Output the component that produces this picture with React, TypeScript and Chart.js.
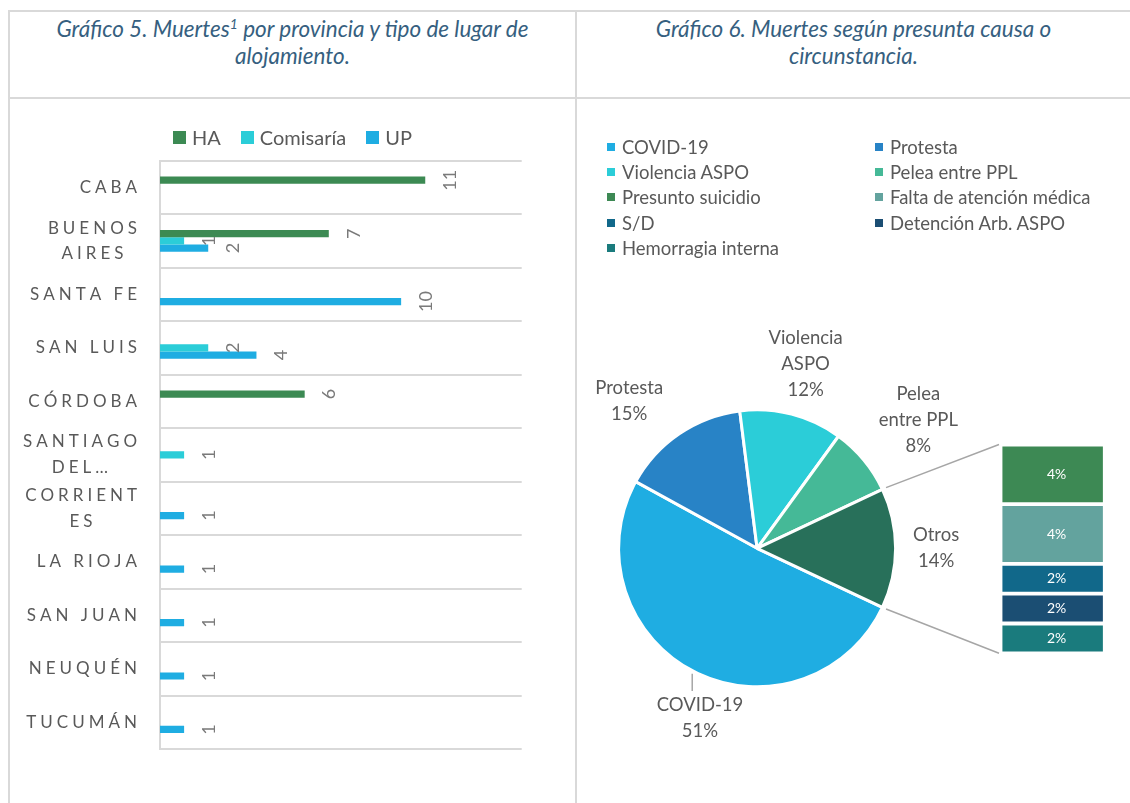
import React, { useEffect, useRef } from "react";
import { Chart, registerables } from "chart.js";

Chart.register(...registerables);

const FONT = "Lato, 'Open Sans', Arial, sans-serif";
const TEXT_GRAY = "#595959";
const BORDER = "#d9d9d9";
const TITLE_COLOR = "#365f80";

// ---------------- Gráfico 5: muertes por provincia ----------------
const provinces: (string | string[])[] = [
  "CABA",
  ["BUENOS", "AIRES"],
  "SANTA FE",
  "SAN LUIS",
  "CÓRDOBA",
  ["SANTIAGO", "DEL…"],
  ["CORRIENT", "ES"],
  "LA RIOJA",
  "SAN JUAN",
  "NEUQUÉN",
  "TUCUMÁN",
];
const haValues = [11, 7, null, null, 6, null, null, null, null, null, null];
const comisariaValues = [null, 1, null, 2, null, 1, null, null, null, null, null];
const upValues = [null, 2, 10, 4, null, null, 1, 1, 1, 1, 1];
const barSeriesNames = ["HA", "Comisaría", "UP"];
const barSeriesColors = ["#3c8a53", "#2bcdd8", "#1fade2"];
const xAxisMax = 15;

// ---------------- Gráfico 6: presunta causa ----------------
const pieLabelLines = [["COVID-19"], ["Protesta"], ["Violencia", "ASPO"], ["Pelea", "entre PPL"], ["Otros"]];
const pieCategories = ["COVID-19", "Protesta", "Violencia ASPO", "Pelea entre PPL", "Otros"];
const piePercents = [51, 15, 12, 8, 14];
const pieColors = ["#1fade2", "#2883c6", "#2bcdd8", "#45b997", "#28705a"];
const otrosCategories = ["Presunto suicidio", "Falta de atención médica", "S/D", "Detención Arb. ASPO", "Hemorragia interna"];
const otrosPercents = [4, 4, 2, 2, 2];
const otrosColors = ["#3d8954", "#63a39e", "#11688a", "#1b4e73", "#1a7b7d"];

// label placement (style config, relative to each slice's mid angle)
const pieLabelPlacement = [
  { dAngle: -8.4, dist: 179, leader: true },
  { dAngle: -6.8, dist: 195, leader: false },
  { dAngle: 0.3, dist: 191, leader: false },
  { dAngle: 1.1, dist: 206, leader: false },
  { dAngle: 0, dist: 179, leader: false },
];

function spacedWidth(ctx: CanvasRenderingContext2D, text: string, spacing: number) {
  const chars = Array.from(text);
  let w = 0;
  for (const ch of chars) w += ctx.measureText(ch).width;
  return w + spacing * (chars.length - 1);
}
function drawSpaced(ctx: CanvasRenderingContext2D, text: string, x: number, y: number, spacing: number) {
  let cx = x;
  for (const ch of Array.from(text)) {
    ctx.fillText(ch, cx, y);
    cx += ctx.measureText(ch).width + spacing;
  }
}

const yLabelPlugin = {
  id: "yLabels",
  afterDraw(chart: any) {
    const ctx: CanvasRenderingContext2D = chart.ctx;
    const yScale = chart.scales.y;
    const SP = 4;
    const LH = 25.7;
    ctx.save();
    ctx.font = `17px ${FONT}`;
    ctx.fillStyle = TEXT_GRAY;
    ctx.textBaseline = "middle";
    ctx.textAlign = "left";
    const xRight = chart.chartArea.left - 23;
    (chart.data.labels as any[]).forEach((lab, i) => {
      const lines: string[] = Array.isArray(lab) ? lab : [lab];
      const widths = lines.map((l) => spacedWidth(ctx, l, SP));
      const maxW = Math.max(...widths);
      const cy = yScale.getPixelForValue(i);
      lines.forEach((l, j) => {
        const ly = cy + (j - (lines.length - 1) / 2) * LH;
        const lx = xRight - maxW / 2 - widths[j] / 2;
        drawSpaced(ctx, l, lx, ly, SP);
      });
    });
    ctx.restore();
  },
};

const barValuePlugin = {
  id: "barValues",
  afterDatasetsDraw(chart: any) {
    const ctx: CanvasRenderingContext2D = chart.ctx;
    ctx.save();
    ctx.font = `18px ${FONT}`;
    ctx.fillStyle = "#7a7a7a";
    ctx.textAlign = "center";
    ctx.textBaseline = "middle";
    chart.data.datasets.forEach((ds: any, di: number) => {
      const meta = chart.getDatasetMeta(di);
      meta.data.forEach((el: any, i: number) => {
        const v = ds.data[i];
        if (v == null) return;
        ctx.save();
        ctx.translate(el.x + 25, el.y);
        ctx.rotate(-Math.PI / 2);
        ctx.fillText(String(v), 0, 0);
        ctx.restore();
      });
    });
    ctx.restore();
  },
};

const secLabelPlugin = {
  id: "secLabels",
  afterDatasetsDraw(chart: any) {
    const ctx: CanvasRenderingContext2D = chart.ctx;
    ctx.save();
    ctx.font = `14px ${FONT}`;
    ctx.fillStyle = "#ffffff";
    ctx.textAlign = "center";
    ctx.textBaseline = "middle";
    chart.data.datasets.forEach((ds: any, di: number) => {
      const el = chart.getDatasetMeta(di).data[0];
      if (!el) return;
      ctx.fillText(`${ds.data[0]}%`, el.x + 4, (el.y + el.base) / 2);
    });
    ctx.restore();
  },
};

export default function App() {
  const barRef = useRef<HTMLCanvasElement>(null);
  const pieRef = useRef<HTMLCanvasElement>(null);
  const secRef = useRef<HTMLCanvasElement>(null);

  useEffect(() => {
    const barChart = new Chart(barRef.current!, {
      type: "bar",
      data: {
        labels: provinces as any,
        datasets: [haValues, comisariaValues, upValues].map((vals, i) => ({
          label: barSeriesNames[i],
          data: vals as any,
          backgroundColor: barSeriesColors[i],
          borderWidth: 0,
          barPercentage: 1,
          categoryPercentage: 0.405,
        })),
      },
      options: {
        indexAxis: "y",
        responsive: false,
        animation: false,
        layout: { padding: { left: 150, right: 53.3, top: 60.7, bottom: 51 } },
        plugins: { legend: { display: false }, tooltip: { enabled: false } },
        scales: {
          x: { display: false, min: 0, max: xAxisMax },
          y: {
            grid: { offset: true, color: BORDER, lineWidth: 2, drawTicks: false },
            border: { color: BORDER, width: 2 },
            ticks: { display: false },
          },
        },
      } as any,
      plugins: [yLabelPlugin, barValuePlugin],
    });

    const otrosTotal = otrosPercents.reduce((a, b) => a + b, 0);
    const secChart = new Chart(secRef.current!, {
      type: "bar",
      data: {
        labels: ["Otros"],
        datasets: otrosCategories.map((name, i) => ({
          label: name,
          data: [otrosPercents[i]],
          backgroundColor: otrosColors[i],
          borderColor: "#ffffff",
          borderWidth: 2.25,
          borderSkipped: false,
          barPercentage: 1,
          categoryPercentage: 1,
          stack: "otros",
        })),
      },
      options: {
        responsive: false,
        animation: false,
        layout: { padding: { left: 10.5, right: 15.2, top: 14.5, bottom: 16.7 } },
        plugins: { legend: { display: false }, tooltip: { enabled: false } },
        scales: {
          x: { display: false, stacked: true },
          y: { display: false, stacked: true, reverse: true, min: 0, max: otrosTotal },
        },
      } as any,
      plugins: [secLabelPlugin],
    });

    const pieTotal = piePercents.reduce((a, b) => a + b, 0);
    const otrosIndex = pieCategories.indexOf("Otros");
    // Otros slice centred facing the secondary bar (3 o'clock)
    const rotation = 90 + (piePercents[otrosIndex] / pieTotal) * 180;

    const pieDecor = {
      id: "pieDecor",
      afterDraw(chart: any) {
        const ctx: CanvasRenderingContext2D = chart.ctx;
        const meta = chart.getDatasetMeta(0);
        ctx.save();
        ctx.font = `18.5px ${FONT}`;
        ctx.fillStyle = TEXT_GRAY;
        ctx.textAlign = "center";
        ctx.textBaseline = "middle";
        const LH = 26;
        meta.data.forEach((arc: any, i: number) => {
          const { x, y, startAngle, endAngle, outerRadius } = arc.getProps(
            ["x", "y", "startAngle", "endAngle", "outerRadius"],
            true
          );
          const mid = (startAngle + endAngle) / 2;
          const pl = pieLabelPlacement[i];
          const a = mid + (pl.dAngle * Math.PI) / 180;
          const lx = x + pl.dist * Math.cos(a);
          const ly = y + pl.dist * Math.sin(a);
          const lines = [...pieLabelLines[i], `${piePercents[i]}%`];
          lines.forEach((t, j) => {
            ctx.fillText(t, lx, ly + (j - (lines.length - 1) / 2) * LH);
          });
          if (pl.leader) {
            const px = x + outerRadius * Math.cos(mid);
            const py = y + outerRadius * Math.sin(mid);
            const topText = ly - ((lines.length - 1) / 2) * LH - 14;
            ctx.strokeStyle = "#a6a6a6";
            ctx.lineWidth = 1.5;
            ctx.beginPath();
            ctx.moveTo(px - 2, py + 2);
            ctx.lineTo(px - 2, topText);
            ctx.stroke();
          }
        });
        // connector lines to the secondary bar
        const oArc = meta.data[otrosIndex];
        const { x, y, startAngle, endAngle, outerRadius } = oArc.getProps(
          ["x", "y", "startAngle", "endAngle", "outerRadius"],
          true
        );
        const pr = chart.canvas.getBoundingClientRect();
        const sr = secChart.canvas.getBoundingClientRect();
        const dx = sr.left - pr.left;
        const dy = sr.top - pr.top;
        const sa = secChart.chartArea;
        const r = outerRadius + 4;
        ctx.strokeStyle = "#a6a6a6";
        ctx.lineWidth = 1.5;
        ctx.beginPath();
        ctx.moveTo(x + r * Math.cos(startAngle), y + r * Math.sin(startAngle));
        ctx.lineTo(dx + sa.left - 1.5, dy + sa.top);
        ctx.moveTo(x + r * Math.cos(endAngle), y + r * Math.sin(endAngle));
        ctx.lineTo(dx + sa.left - 1.5, dy + sa.bottom);
        ctx.stroke();
        ctx.restore();
      },
    };

    const pieChart = new Chart(pieRef.current!, {
      type: "pie",
      data: {
        labels: pieCategories,
        datasets: [
          {
            data: piePercents,
            backgroundColor: pieColors,
            borderColor: "#ffffff",
            borderWidth: 3,
            hoverOffset: 0,
            offset: 0,
          },
        ],
      },
      options: {
        responsive: false,
        animation: false,
        rotation,
        layout: { padding: { left: 40.1, top: 309.3, right: 232.9, bottom: 114.7 } },
        plugins: { legend: { display: false }, tooltip: { enabled: false } },
      } as any,
      plugins: [pieDecor],
    });

    return () => {
      barChart.destroy();
      pieChart.destroy();
      secChart.destroy();
    };
  }, []);

  const legendItems6 = [
    ...pieCategories.map((c, i) => ({ name: c, color: pieColors[i] })).filter((d) => d.name !== "Otros"),
    ...otrosCategories.map((c, i) => ({ name: c, color: otrosColors[i] })),
  ];

  const line = (s: React.CSSProperties) => (
    <div style={{ position: "absolute", background: BORDER, ...s }} />
  );

  const titleStyle: React.CSSProperties = {
    position: "absolute",
    top: 14.5,
    textAlign: "center",
    fontStyle: "italic",
    fontSize: 22.5,
    lineHeight: "27px",
    color: TITLE_COLOR,
  };

  return (
    <div
      style={{
        position: "fixed",
        left: 0,
        top: 0,
        width: 1130,
        height: 803,
        background: "#ffffff",
        overflow: "hidden",
        fontFamily: FONT,
      }}
    >
      {line({ left: 8, top: 10, width: 1122, height: 2 })}
      {line({ left: 8, top: 97, width: 1122, height: 2 })}
      {line({ left: 8, top: 10, width: 2, height: 793 })}
      {line({ left: 575, top: 10, width: 2, height: 793 })}

      <div style={{ ...titleStyle, left: 10, width: 565 }}>
        Gráfico 5. Muertes<span style={{ fontSize: "0.62em", verticalAlign: "super", lineHeight: 0 }}>1</span> por
        provincia y tipo de lugar de
        <br />
        alojamiento.
      </div>
      <div style={{ ...titleStyle, left: 577, width: 553 }}>
        Gráfico 6. Muertes según presunta causa o
        <br />
        circunstancia.
      </div>

      <div style={{ position: "absolute", left: 10, top: 100 }}>
        <canvas ref={barRef} width={565} height={700} style={{ display: "block", width: 565, height: 700 }} />
      </div>

      <div
        style={{
          position: "absolute",
          left: 10,
          top: 126,
          width: 565,
          height: 22,
          display: "flex",
          justifyContent: "center",
          alignItems: "center",
          gap: 20,
          fontSize: 20,
          color: TEXT_GRAY,
        }}
      >
        {barSeriesNames.map((n, i) => (
          <div key={n} style={{ display: "flex", alignItems: "center" }}>
            <span style={{ display: "inline-block", width: 13, height: 13, background: barSeriesColors[i], marginRight: 6 }} />
            <span>{n}</span>
          </div>
        ))}
      </div>

      <div style={{ position: "absolute", left: 577, top: 99 }}>
        <canvas ref={pieRef} width={553} height={704} style={{ display: "block", width: 553, height: 704 }} />
      </div>
      <div style={{ position: "absolute", left: 990, top: 430 }}>
        <canvas ref={secRef} width={130} height={240} style={{ display: "block", width: 130, height: 240 }} />
      </div>

      <div
        style={{
          position: "absolute",
          left: 607,
          top: 134,
          display: "grid",
          gridTemplateColumns: "268px auto",
          gridAutoRows: "25.4px",
          fontSize: 18.5,
          color: TEXT_GRAY,
        }}
      >
        {legendItems6.map((d) => (
          <div key={d.name} style={{ display: "flex", alignItems: "center", whiteSpace: "nowrap" }}>
            <span style={{ display: "inline-block", width: 8, height: 8, background: d.color, marginRight: 7 }} />
            <span>{d.name}</span>
          </div>
        ))}
      </div>
    </div>
  );
}
